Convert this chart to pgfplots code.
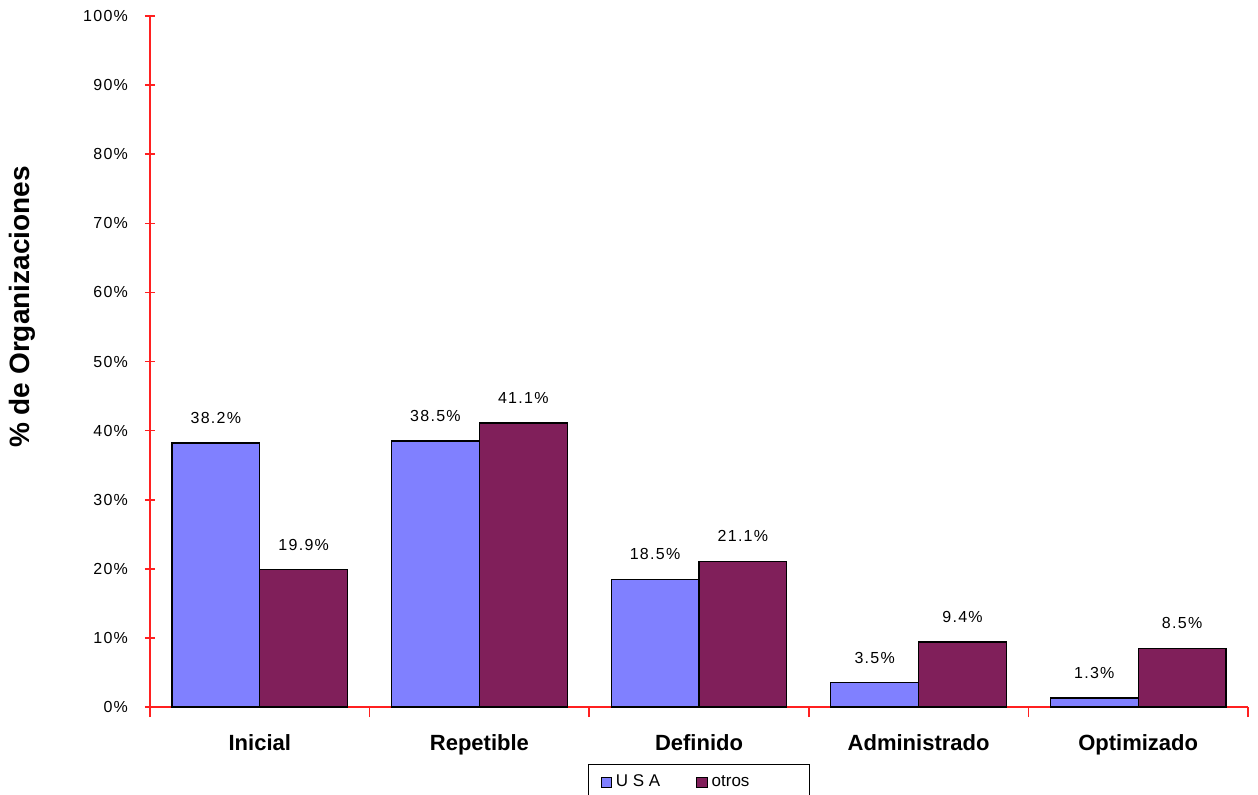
\documentclass[border=0pt]{standalone}
\usepackage{fontspec}
\setmainfont{Liberation Sans}
\usepackage{pgfplots}
\pgfplotsset{compat=1.18}
\definecolor{usablue}{HTML}{8080FF}
\definecolor{otrospurple}{HTML}{801F5A}
\definecolor{axisred}{HTML}{FF2020}
\begin{document}
\begin{tikzpicture}
\begin{axis}[
  at={(0,0)}, anchor=south west,
  scale only axis,
  width=549pt, height=345.5pt,
  xmin=-0.5, xmax=4.5,
  ymin=0, ymax=100,
  axis x line=bottom, axis y line=left,
  axis line style={axisred, line width=0.8pt, -},
  xtick style={draw=axisred, line width=0.8pt},
  ytick style={draw=axisred, line width=0.8pt},
  xtick align=center, ytick align=center,
  major tick length=5pt,
  % tick marks between the groups, category names under the groups
  xtick={-0.5,0.5,1.5,2.5,3.5,4.5},
  xticklabels={},
  extra x ticks={0,1,2,3,4},
  extra x tick labels={Inicial,Repetible,Definido,Administrado,Optimizado},
  extra x tick style={major tick length=0pt,
    xticklabel style={font=\fontsize{11}{13}\selectfont\bfseries, yshift=-10pt}},
  ytick={0,10,...,100},
  yticklabel={\pgfmathprintnumber{\tick}\%},
  yticklabel style={font=\fontsize{8}{10}\selectfont\addfontfeature{LetterSpace=8}, xshift=-5pt},
  /pgf/number format/assume math mode=true,
  ybar=0pt,
  bar width=0.4,
  nodes near coords={\pgfmathprintnumber[fixed,fixed zerofill,precision=1]{\pgfplotspointmeta}\%},
  every node near coord/.append style={font=\fontsize{8}{10}\selectfont\addfontfeature{LetterSpace=8}, black, yshift=6pt},
  legend style={at={(0.5,-0.083)}, anchor=north, legend columns=2,
    draw=black, line width=0.5pt, font=\fontsize{8.5}{10}\selectfont,
    /tikz/every even column/.append style={column sep=16pt},
    inner xsep=6pt, inner ysep=3pt},
  legend image code/.code={\draw[#1, draw=black, line width=0.5pt] (0pt,-2.6pt) rectangle (5.2pt,2.6pt);},
  clip=false,
]
\addplot[fill=usablue, draw=black, line width=0.6pt, bar shift=-0.2]
  coordinates {(0,38.2) (1,38.5) (2,18.5) (3,3.5) (4,1.3)};
\addlegendentry{U S A}
\addplot[fill=otrospurple, draw=black, line width=0.6pt, bar shift=0.2]
  coordinates {(0,19.9) (1,41.1) (2,21.1) (3,9.4) (4,8.5)};
\addlegendentry{otros\rule{22pt}{0pt}}
\end{axis}
\node[rotate=90, font=\fontsize{14}{16}\selectfont\bfseries] at (-64pt,200pt) {\% de Organizaciones};
\pgfresetboundingbox
\path[use as bounding box] (-75pt,-43.5pt) rectangle (554pt,353.5pt);
\end{tikzpicture}
\end{document}
